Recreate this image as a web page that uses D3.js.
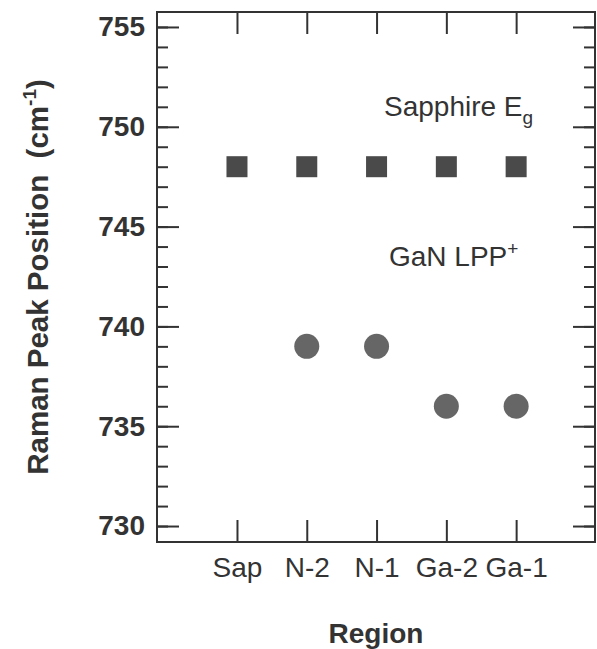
<!DOCTYPE html>
<html>
<head>
<meta charset="utf-8">
<script src="https://cdn.jsdelivr.net/npm/d3@7"></script>
<style>
  body { margin: 0; background: #fff; }
  text { font-family: Arial, "Liberation Sans", Helvetica, sans-serif; fill: #333; }
</style>
</head>
<body>
<script>
// Region categories along the x axis
const regions = ['Sap', 'N-2', 'N-1', 'Ga-2', 'Ga-1'];

// Raman peak positions (cm^-1)
const sapphireEg = [748, 748, 748, 748, 748];
const ganLPP = [null, 739, 739, 736, 736];

// Y axis tick values
const yMajorTicks = [730, 735, 740, 745, 750, 755];
const yMinorTicks = d3.range(730, 756, 1);

const width = 597, height = 649;
const frame = { left: 157, right: 595, top: 12, bottom: 542 };
const ink = '#333';

const svg = d3.select('body')
    .append('svg')
    .attr('width', width)
    .attr('height', height);

// Scales
const xScale = d3.scaleLinear()
    .domain([-1.146, 5.13])
    .range([frame.left, frame.right]);

const yScale = d3.scaleLinear()
    .domain([729.2, 755.75])
    .range([frame.bottom, frame.top]);

const idx = regions.map((d, i) => i);

// Axes (ticks point inward)
const styleAxis = g => {
    g.select('.domain').remove();
    g.selectAll('line').attr('stroke', ink).attr('stroke-width', 2);
};

// left: minor ticks, then major with labels
svg.append('g')
    .attr('transform', `translate(${frame.left},0)`)
    .call(d3.axisLeft(yScale).tickValues(yMinorTicks).tickSize(-11).tickFormat(''))
    .call(styleAxis);

svg.append('g')
    .attr('transform', `translate(${frame.left},0)`)
    .call(d3.axisLeft(yScale).tickValues(yMajorTicks).tickSize(-22).tickPadding(12).tickFormat(d3.format('d')))
    .call(styleAxis)
    .call(g => g.selectAll('text')
        .style('font-size', '28px')
        .style('font-weight', 'bold')
        .attr('fill', ink));

// right: mirrored ticks
svg.append('g')
    .attr('transform', `translate(${frame.right},0)`)
    .call(d3.axisRight(yScale).tickValues(yMinorTicks).tickSize(-11).tickFormat(''))
    .call(styleAxis);

svg.append('g')
    .attr('transform', `translate(${frame.right},0)`)
    .call(d3.axisRight(yScale).tickValues(yMajorTicks).tickSize(-22).tickFormat(''))
    .call(styleAxis);

// bottom with region labels
svg.append('g')
    .attr('transform', `translate(0,${frame.bottom})`)
    .call(d3.axisBottom(xScale).tickValues(idx).tickSize(-22).tickPadding(15).tickFormat(i => regions[i]))
    .call(styleAxis)
    .call(g => g.selectAll('text')
        .style('font-size', '28px')
        .attr('fill', ink));

// top
svg.append('g')
    .attr('transform', `translate(0,${frame.top})`)
    .call(d3.axisTop(xScale).tickValues(idx).tickSize(-22).tickFormat(''))
    .call(styleAxis);

// Frame
svg.append('rect')
    .attr('x', frame.left)
    .attr('y', frame.top)
    .attr('width', frame.right - frame.left)
    .attr('height', frame.bottom - frame.top)
    .attr('fill', 'none')
    .attr('stroke', ink)
    .attr('stroke-width', 2);

// Sapphire Eg squares
const sq = 21;
svg.append('g')
    .selectAll('rect')
    .data(sapphireEg)
    .join('rect')
    .attr('x', (d, i) => xScale(i) - sq / 2)
    .attr('y', d => yScale(d) - sq / 2)
    .attr('width', sq)
    .attr('height', sq)
    .attr('fill', '#4a4a4a');

// GaN LPP+ circles
svg.append('g')
    .selectAll('circle')
    .data(ganLPP.map((v, i) => ({ v, i })).filter(d => d.v !== null))
    .join('circle')
    .attr('cx', d => xScale(d.i))
    .attr('cy', d => yScale(d.v))
    .attr('r', 12.5)
    .attr('fill', '#666');

// Annotations
const sapLabel = svg.append('text')
    .attr('x', 384)
    .attr('y', 116)
    .style('font-size', '28px');
sapLabel.append('tspan').text('Sapphire E');
sapLabel.append('tspan').attr('dy', 8).style('font-size', '19px').text('g');

const ganLabel = svg.append('text')
    .attr('x', 389)
    .attr('y', 266)
    .style('font-size', '28px');
ganLabel.append('tspan').text('GaN LPP');
ganLabel.append('tspan').attr('dy', -11).style('font-size', '19px').text('+');

// Axis titles
const yTitle = svg.append('text')
    .attr('transform', 'translate(48,277) rotate(-90)')
    .attr('text-anchor', 'middle')
    .style('font-size', '29.5px')
    .style('font-weight', 'bold')
    .style('white-space', 'pre');
yTitle.append('tspan').text('Raman Peak Position  (cm');
yTitle.append('tspan').attr('dy', -12).style('font-size', '19px').text('-1');
yTitle.append('tspan').attr('dy', 12).text(')');

svg.append('text')
    .attr('x', 376)
    .attr('y', 643)
    .attr('text-anchor', 'middle')
    .style('font-size', '28px')
    .style('font-weight', 'bold')
    .text('Region');
</script>
</body>
</html>
